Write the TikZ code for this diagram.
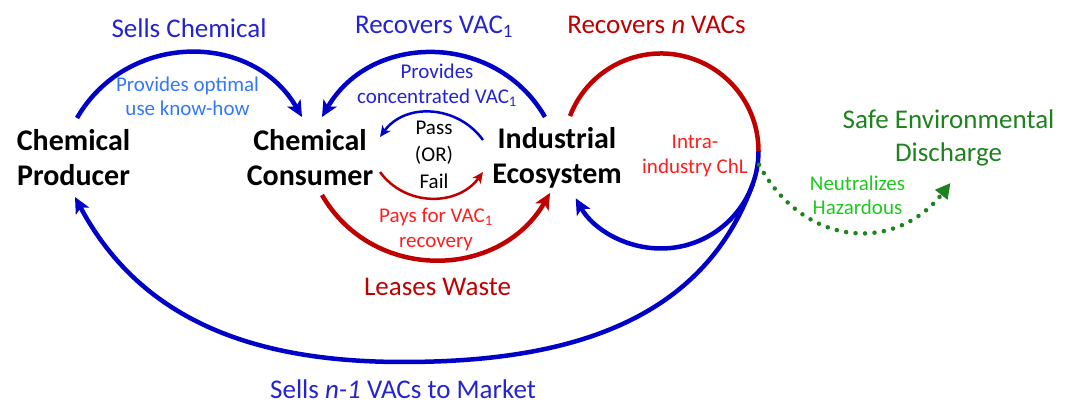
\documentclass[tikz,border=0pt]{standalone}
\usepackage{fontspec}
\setmainfont{Carlito}
\usetikzlibrary{arrows.meta}

\definecolor{arrowblue}{RGB}{0,0,200}
\definecolor{textblue}{RGB}{35,35,210}
\definecolor{lightblue}{RGB}{50,120,255}
\definecolor{darkred}{RGB}{192,0,0}
\definecolor{brightred}{RGB}{255,30,30}
\definecolor{darkgreen}{RGB}{30,130,30}
\definecolor{lightgreen}{RGB}{30,200,30}

\tikzset{
  actor/.style={font=\fontsize{30}{35}\selectfont\bfseries, align=center, inner sep=0pt},
  biglbl/.style={font=\fontsize{27}{33}\selectfont, align=center, inner sep=0pt},
  smalllbl/.style={font=\fontsize{21}{24.5}\selectfont, align=center, inner sep=0pt},
  choice/.style={font=\fontsize{21}{27}\selectfont, align=center, inner sep=0pt},
  thickarrow/.style={line width=4.5pt, -{Stealth[length=16pt,width=15pt,inset=4pt]}},
  thinarrow/.style={line width=2.5pt, -{Stealth[length=11pt,width=10pt,inset=3pt]}},
  dotarrow/.style={line width=4.5pt, dash pattern=on 0pt off 9.5pt, line cap=round,
    -{Triangle[length=15pt,width=15pt]}},
}

\begin{document}
\begin{tikzpicture}[x=1pt,y=1pt]
\useasboundingbox (0,0) rectangle (1070,403);

% main actors
\node[actor] (prod) at (73.5,245.5) {Chemical\\Producer};
\node[actor] (cons) at (310,245.5) {Chemical\\Consumer};
\node[actor] (eco)  at (557,245.5) {Industrial\\Ecosystem};
\node[choice] (pof) at (434,248) {Pass\\(OR)\\Fail};

% labels
\node[biglbl, textblue] (sells) at (189,375) {Sells Chemical};
\node[smalllbl, lightblue] (knowhow) at (187.5,306.5) {Provides optimal\\use know-how};
\node[biglbl, textblue] (recov1) at (434,376) {Recovers VAC\textsubscript{1}};
\node[smalllbl, textblue] (conc) at (437,317.5) {Provides\\concentrated VAC\textsubscript{1}};
\node[biglbl, darkred] (recovn) at (656.5,378) {Recovers \textit{n} VACs};
\node[smalllbl, brightred] (intra) at (695,247) {Intra-\\industry ChL};
\node[smalllbl, brightred] (pays) at (436,173.5) {Pays for VAC\textsubscript{1}\\recovery};
\node[biglbl, darkred] (lease) at (437.5,116) {Leases Waste};
\node[biglbl, textblue] (market) at (403,14) {Sells \textit{n-1} VACs to Market};
\node[biglbl, darkgreen] (safe) at (948.5,265) {Safe Environmental\\Discharge};
\node[smalllbl, lightgreen] (neutral) at (857.5,207.5) {Neutralizes\\Hazardous};

% producer -> consumer
\draw[thickarrow, arrowblue] ([shift={(3.5,39.5)}]prod.center)
  to[out=60,in=120,looseness=1.13] ([shift={(-8,40.5)}]cons.center);
% ecosystem -> consumer
\draw[thickarrow, arrowblue] ([shift={(-12,40.5)}]eco.center)
  to[out=120,in=60,looseness=1.13] ([shift={(12,40.5)}]cons.center);
% pass / fail
\draw[thinarrow, arrowblue] ([shift={(-74,17.5)}]eco.center)
  to[out=126,in=54,looseness=1.07] ([shift={(70,20.5)}]cons.center);
\draw[thinarrow, darkred] ([shift={(70,-14.5)}]cons.center)
  to[out=-54,in=-126,looseness=1.07] ([shift={(-74,-14.5)}]eco.center);
% consumer -> ecosystem (waste)
\draw[thickarrow, darkred] ([shift={(12,-37.5)}]cons.center)
  to[out=-60,in=-120,looseness=1.13] ([shift={(-7,-35.5)}]eco.center);

% intra-industry loop
\coordinate (loopc) at ([shift={(104,6.5)}]eco.center);
\draw[line width=4.5pt, darkred] ([shift={(159:97.5)}]loopc)
  arc[start angle=159, end angle=0, radius=97.5pt];
\draw[thickarrow, arrowblue] ([shift={(0:97.5)}]loopc)
  arc[start angle=0, end angle=-151, radius=97.5pt];

% ecosystem -> producer (market)
\coordinate (mkt) at ([yshift=27]market.center);
\draw[thickarrow, arrowblue] ([shift={(-20:97.5)}]loopc)
  to[out=250,in=0] (mkt)
  to[out=180,in=-62] ([shift={(1.5,-39.5)}]prod.center);

% discharge
\draw[dotarrow, darkgreen] ([shift={(-8:99)}]loopc)
  .. controls +(45,-83) and +(-55,-70) .. ([shift={(2,-45)}]safe.center);
\end{tikzpicture}
\end{document}
